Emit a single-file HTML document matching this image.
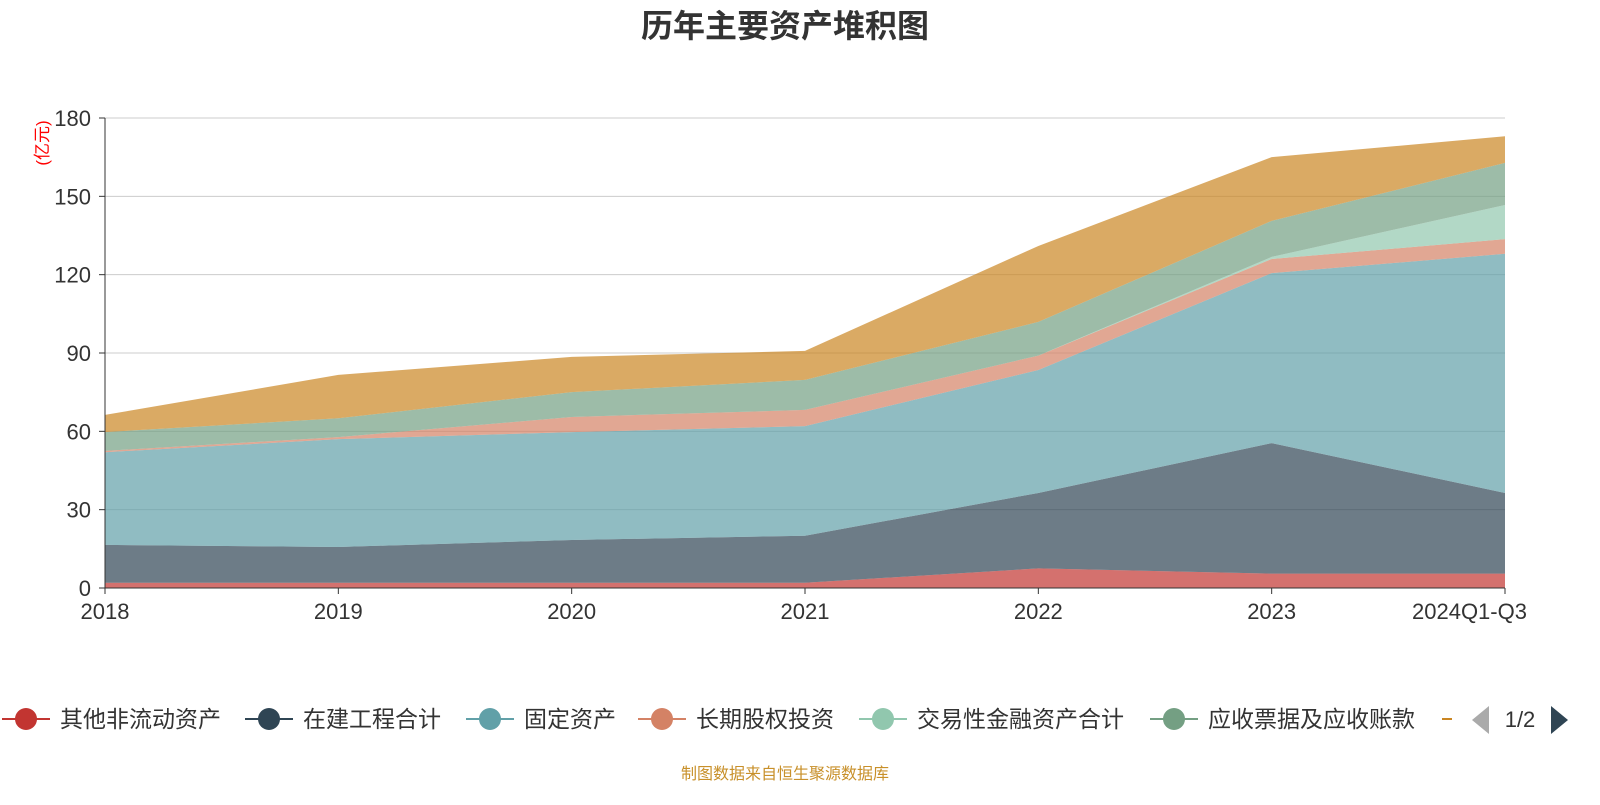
<!DOCTYPE html>
<html><head><meta charset="utf-8"><style>
body{margin:0;background:#fff;width:1600px;height:800px;overflow:hidden;font-family:"Liberation Sans","Noto Sans CJK SC",sans-serif;}
svg text{font-family:"Liberation Sans","Noto Sans CJK SC",sans-serif;}
</style></head><body>
<svg id="chart" width="1600" height="800">
<text x="785" y="37" text-anchor="middle" font-size="32" font-weight="bold" fill="#333">历年主要资产堆积图</text>
<text transform="translate(48,143) rotate(-90)" text-anchor="middle" font-size="17" fill="#f00">(亿元)</text>
<g id="grid"></g><g id="areas"></g><g id="axes"></g><g id="legend"></g>
<text x="785" y="779" text-anchor="middle" font-size="16" fill="#c8902a">制图数据来自恒生聚源数据库</text>
</svg>
<script>
const categories=["2018","2019","2020","2021","2022","2023","2024Q1-Q3"];
const seriesNames=["其他非流动资产","在建工程合计","固定资产","长期股权投资","交易性金融资产合计","应收票据及应收账款","其他"];
const s1=[2,2,2,2,7.5,5.5,5.5];
const s2=[14.5,13.7,16.4,18,28.9,50,30.9];
const s3=[35.5,41.3,41.3,42,47.1,65.1,91.6];
const s4=[0.5,0.8,5.8,6.2,5.5,5.4,5.6];
const s5=[0,0,0,0,0,0.8,13.1];
const s6=[7.2,7.2,9.5,11.5,12.9,13.8,16.1];
const s7=[6.6,16.6,13.5,11.1,29.1,24.4,10.2];
const yTicks=[0,30,60,90,120,150,180];
const colors=["#c23531","#2f4554","#61a0a8","#d48265","#91c7ae","#749f83","#ca8622"];
const series=[s1,s2,s3,s4,s5,s6,s7];
const X0=105,X1=1505,Y0=588,Y1=118;
const xs=i=>X0+(X1-X0)*i/(categories.length-1);
const ys=v=>Y0-(Y0-Y1)*v/180;
const NS="http://www.w3.org/2000/svg";
function mk(t,a,p){const e=document.createElementNS(NS,t);for(const k in a)e.setAttribute(k,a[k]);p.appendChild(e);return e;}
const grid=document.getElementById('grid'),axes=document.getElementById('axes'),areas=document.getElementById('areas'),legend=document.getElementById('legend');
yTicks.forEach(v=>{
  if(v>0){const l=mk('line',{x1:X0,x2:X1,y1:ys(v),y2:ys(v),stroke:'#ccc','stroke-width':1},grid);
  
  }
  const t=mk('text',{x:X0-14,y:ys(v)+8,'text-anchor':'end','font-size':22,fill:'#333'},axes);t.textContent=v;
  
  
  mk('line',{x1:X0-6,x2:X0,y1:ys(v),y2:ys(v),stroke:'#333'},axes);
});
let cum=categories.map(()=>0);
series.forEach((s,k)=>{
  const lo=cum.slice();cum=cum.map((c,i)=>c+s[i]);
  let d='M'+categories.map((_,i)=>xs(i)+','+ys(cum[i])).join('L');
  for(let i=categories.length-1;i>=0;i--)d+='L'+xs(i)+','+ys(lo[i]);
  const p=mk('path',{d:d+'Z',fill:colors[k],'fill-opacity':0.7},areas);
  
  
});
mk('line',{x1:X0,x2:X0,y1:Y1,y2:Y0,stroke:'#333'},axes);
mk('line',{x1:X0,x2:X1,y1:Y0,y2:Y0,stroke:'#333'},axes);
categories.forEach((c,i)=>{
  mk('line',{x1:xs(i),x2:xs(i),y1:Y0,y2:Y0+6,stroke:'#333'},axes);
  const t=mk('text',{x:xs(i),y:Y0+31,'text-anchor':i==categories.length-1?'start':'middle','font-size':22,fill:'#333'},axes);
  if(i==categories.length-1)t.setAttribute('x',xs(i)-93);
  t.textContent=c;
  
  
});
const lx=[2,245,466,638,859,1150];
lx.forEach((x,k)=>{
  const g=mk('g',{},legend);
  
  
  mk('line',{x1:x,x2:x+48,y1:719,y2:719,stroke:colors[k],'stroke-width':2},g);
  mk('circle',{cx:x+24,cy:719,r:11,fill:colors[k]},g);
  const t=mk('text',{x:x+58,y:727,'font-size':23,fill:'#333'},g);t.textContent=seriesNames[k];
});
mk('line',{x1:1442,x2:1452,y1:719,y2:719,stroke:colors[6],'stroke-width':2},legend);
const pl=mk('path',{d:'M1489,706L1489,734L1472,720Z',fill:'#aaa'},legend);


const pt=mk('text',{x:1520,y:727,'text-anchor':'middle','font-size':22,fill:'#333'},legend);pt.textContent='1/2';


const pr=mk('path',{d:'M1551,706L1551,734L1568,720Z',fill:'#2f4554'},legend);


</script>
</body></html>
